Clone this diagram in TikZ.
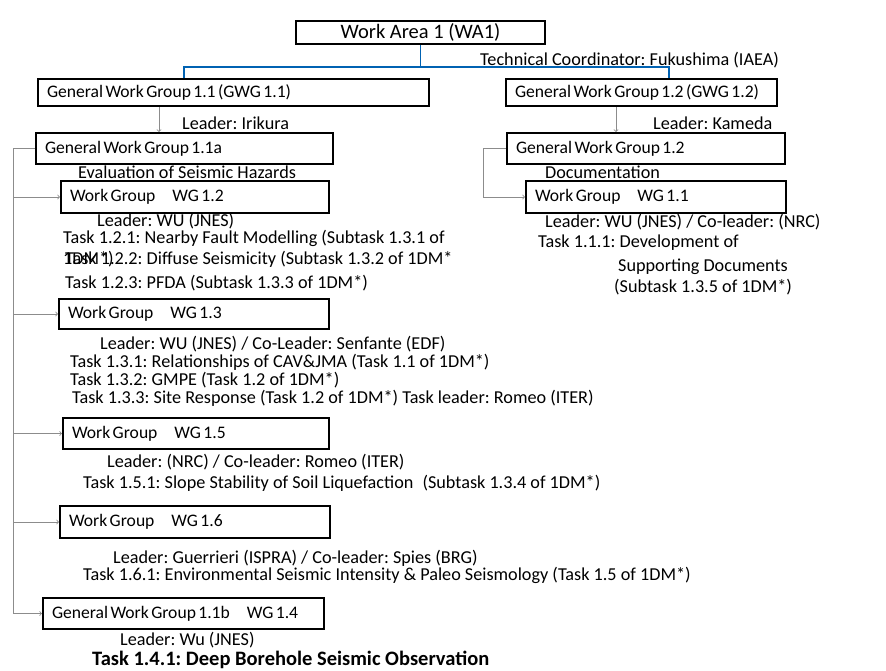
\documentclass[tikz,border=0pt]{standalone}
\usepackage{fontspec}
\setmainfont{Carlito}
\frenchspacing
\newcommand\boxlabelfont{\fontsize{17.6}{20}\selectfont\spaceskip=2.4pt\relax}
\begin{document}
\begin{tikzpicture}[x=1pt,y=-1pt,
  box/.style={draw=black,line width=2pt,anchor=north west,inner xsep=9pt,inner ysep=0pt,
    align=flush left,font=\boxlabelfont},
  lbl/.style={anchor=west,inner sep=0pt,font=\fontsize{18.2}{21}\selectfont},
  arr/.style={draw=gray!90,line width=0.8pt,->},
  conn/.style={draw=gray!90,line width=0.8pt},
  bus/.style={draw=blue!45!cyan!70!black,line width=1.6pt}]
\useasboundingbox (0,0) rectangle (886,670);

% top level
\node[box,text width=231pt,minimum height=23pt,font=\fontsize{20.5}{23}\selectfont,align=flush center] (wa1) at (295,20) {Work Area 1 (WA1)};
\node[lbl] (coord) at (480,60) {Technical Coordinator: Fukushima (IAEA)};

% general work groups
\node[box,text width=373pt,minimum height=27pt] (gwg11) at (37,78) {General Work Group 1.1 (GWG 1.1)};
\node[box,text width=253pt,minimum height=27pt] (gwg12) at (505,78) {General Work Group 1.2 (GWG 1.2)};

\coordinate (busL) at (184,67);
\coordinate (busR) at (669,67);
\draw[bus] (wa1.south) -- (wa1.south |- busL);
\draw[bus] (busL |- gwg11.north) -- (busL) -- (busR) -- (busR |- gwg12.north);

\node[box,text width=279pt,minimum height=31pt] (gwg11a) at (35,132) {General Work Group 1.1a};
\node[box,text width=260pt,minimum height=31pt] (gwg12d) at (506,132) {General Work Group 1.2};
\coordinate (dropL) at (159,0);
\coordinate (dropR) at (616,0);
\draw[arr] (dropL |- gwg11.south) -- (dropL |- gwg11a.north);
\draw[arr] (dropR |- gwg12.south) -- (dropR |- gwg12d.north);
\node[lbl] (ldrL) at (182,123) {Leader: Irikura};
\node[lbl] (ldrR) at (653,123) {Leader: Kameda};
\node[lbl] (evalL) at (78,172) {Evaluation of Seismic Hazards};
\node[lbl] (docR) at (545,172) {Documentation};

% left branch: work groups
\node[box,text width=250pt,minimum height=32pt] (wg12) at (60,180) {Work Group\hspace{17pt}WG 1.2};
\node[lbl] at (97,221) {Leader: WU (JNES)};
\node[lbl] at (63,238) {Task 1.2.1: Nearby Fault Modelling (Subtask 1.3.1 of};
\node[lbl] at (63,259) {1DM*)};
\node[lbl] at (65,259) {Task 1.2.2: Diffuse Seismicity (Subtask 1.3.2 of 1DM*};
\node[lbl] at (65,283) {Task 1.2.3: PFDA (Subtask 1.3.3 of 1DM*)};

\node[box,text width=252pt,minimum height=30pt] (wg13) at (58,298) {Work Group\hspace{17pt}WG 1.3};
\node[lbl] at (100,344) {Leader: WU (JNES) / Co-Leader: Senfante (EDF)};
\node[lbl] at (70,362) {Task 1.3.1: Relationships of CAV\&JMA (Task 1.1 of 1DM*)};
\node[lbl] at (70,380) {Task 1.3.2: GMPE (Task 1.2 of 1DM*)};
\node[lbl] at (72,398) {Task 1.3.3: Site Response (Task 1.2 of 1DM*) Task leader: Romeo (ITER)};

\node[box,text width=248pt,minimum height=31pt] (wg15) at (62,417) {Work Group\hspace{17pt}WG 1.5};
\node[lbl] at (107,462) {Leader: (NRC) / Co-leader: Romeo (ITER)};
\node[lbl] at (83,483) {Task 1.5.1: Slope Stability of Soil Liquefaction\hspace{5pt} (Subtask 1.3.4 of 1DM*)};

\node[box,text width=252pt,minimum height=32pt] (wg16) at (59,505) {Work Group\hspace{17pt}WG 1.6};
\node[lbl] at (113,558) {Leader: Guerrieri (ISPRA) / Co-leader: Spies (BRG)};
\node[lbl] at (83,575) {Task 1.6.1: Environmental Seismic Intensity \& Paleo Seismology (Task 1.5 of 1DM*)};

\node[box,text width=263pt,minimum height=31pt] (wg14) at (42,597) {General Work Group 1.1b\hspace{17pt}WG 1.4};
\node[lbl] at (120,640) {Leader: Wu (JNES)};
\node[lbl,font=\fontsize{20.5}{23}\selectfont\bfseries] at (92,660) {Task 1.4.1: Deep Borehole Seismic Observation};

% left spine
\coordinate (spine) at (13,147);
\draw[conn] (gwg11a.west) -- (gwg11a.west -| spine) -- (spine |- wg14.west);
\draw[arr] (spine |- wg12.west) -- (wg12.west);
\draw[arr] (spine |- wg13.west) -- (wg13.west);
\draw[arr] (spine |- wg15.west) -- (wg15.west);
\draw[arr] (spine |- wg16.west) -- (wg16.west);
\draw[arr] (spine |- wg14.west) -- (wg14.west);

% right branch
\node[box,text width=242pt,minimum height=32pt] (wg11) at (525,180) {Work Group\hspace{17pt}WG 1.1};
\coordinate (docx) at (483,0);
\draw[arr] (gwg12d.west) -- (gwg12d.west -| docx) |- (wg11.west);
\node[lbl] at (545,222) {Leader: WU (JNES) / Co-leader: (NRC)};
\node[lbl] at (538,243) {Task 1.1.1: Development of};
\node[lbl] at (618,267) {Supporting Documents};
\node[lbl] at (614,287) {(Subtask 1.3.5 of 1DM*)};
\end{tikzpicture}
\end{document}
